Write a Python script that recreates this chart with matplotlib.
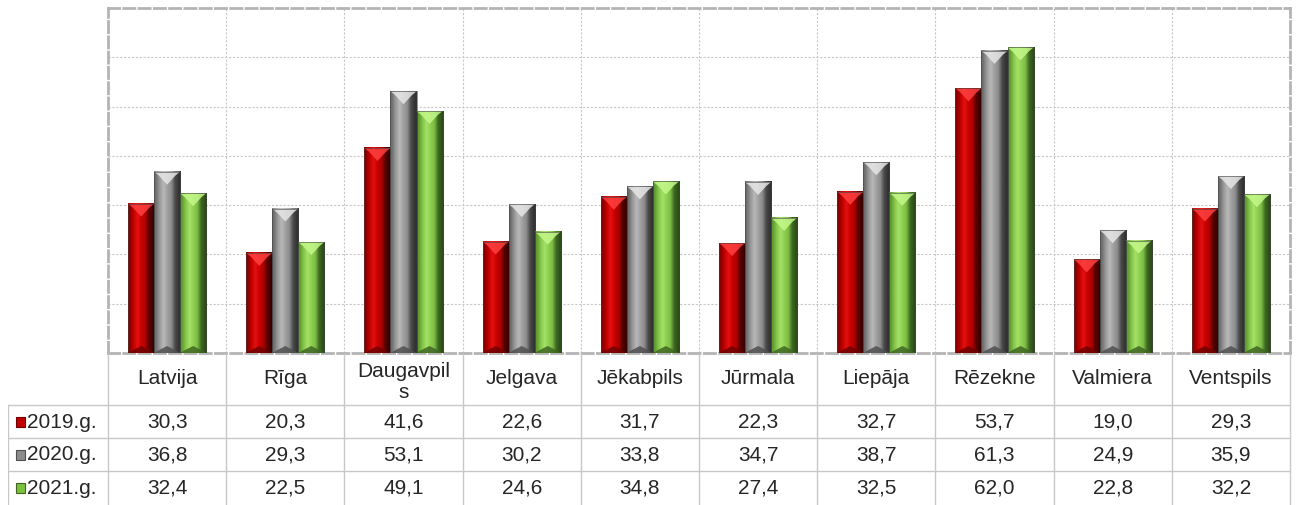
import numpy as np
import matplotlib.pyplot as plt
from matplotlib.colors import to_rgb
from matplotlib.patches import Polygon, Rectangle

# data
cities = ['Latvija', 'Rīga', 'Daugavpil\ns', 'Jelgava', 'Jēkabpils', 'Jūrmala',
          'Liepāja', 'Rēzekne', 'Valmiera', 'Ventspils']
years = ['2019.g.', '2020.g.', '2021.g.']
v2019 = [30.3, 20.3, 41.6, 22.6, 31.7, 22.3, 32.7, 53.7, 19.0, 29.3]
v2020 = [36.8, 29.3, 53.1, 30.2, 33.8, 34.7, 38.7, 61.3, 24.9, 35.9]
v2021 = [32.4, 22.5, 49.1, 24.6, 34.8, 27.4, 32.5, 62.0, 22.8, 32.2]
series = [v2019, v2020, v2021]

# horizontal gradient across a bar, plus top / bottom bevel colours
gradients = [
    ['#8a0000', '#c40000', '#e41010', '#c80000', '#b00000', '#5a0000', '#3a0000'],
    ['#6e6e6e', '#9a9a9a', '#b8b8b8', '#a0a0a0', '#8c8c8c', '#4a4a4a', '#333333'],
    ['#5e9a32', '#86c84a', '#a4e066', '#8ed052', '#7cbc44', '#3e6a22', '#2e4e18'],
]
tops = ['#ff4040', '#e6e6e6', '#c4f88a']
bots = ['#700000', '#505050', '#406622']
marker_cols = ['#c00000', '#8c8c8c', '#7cc040']

plt.rcParams['font.family'] = ['Liberation Sans', 'DejaVu Sans']

W, H = 1300, 505
fig = plt.figure(figsize=(W / 100, H / 100), dpi=100)

ax = fig.add_axes([108 / W, (H - 353) / H, 1182 / W, 345 / H])
ymax = 70
px_y = ymax / 345.0  # data units per pixel

bw = 0.22
for s, vals in enumerate(series):
    grad = np.array([[to_rgb(c) for c in gradients[s]]])
    for i, v in enumerate(vals):
        x0 = i + 0.5 + (s - 1.5) * bw
        x1 = x0 + bw
        bx = bw * 0.18
        ty = min(13 * px_y, v / 2)
        by = min(7 * px_y, v / 2)
        ax.imshow(grad, extent=(x0, x1, 0, v), aspect='auto',
                  interpolation='bilinear', zorder=3)
        ax.add_patch(Polygon([(x0, v), (x1, v), (x1 - bx, v - ty * 0.3),
                              ((x0 + x1) / 2, v - ty), (x0 + bx, v - ty * 0.3)],
                             closed=True, facecolor=tops[s], edgecolor='none',
                             alpha=0.85, zorder=3))
        ax.add_patch(Polygon([(x0, 0), (x1, 0), (x1 - bx, by * 0.4),
                              ((x0 + x1) / 2, by), (x0 + bx, by * 0.4)],
                             closed=True, facecolor=bots[s], edgecolor='none',
                             alpha=0.85, zorder=3))
        ax.add_patch(Rectangle((x0, 0), bw, v, facecolor='none', edgecolor='#404040',
                               linewidth=0.4, zorder=4))

ax.set_xlim(0, len(cities))
ax.set_ylim(0, ymax)
ax.set_xticks([])
ax.set_yticks([])
for y in range(10, ymax, 10):
    ax.axhline(y, color='#c8c8c8', linestyle=(0, (2, 1.5)), linewidth=0.8, zorder=1)
for i in range(1, len(cities)):
    ax.axvline(i, color='#c8c8c8', linestyle=(0, (2, 1.5)), linewidth=0.8, zorder=1)
for sp in ax.spines.values():
    sp.set_color('#b4b4b4')
    sp.set_linewidth(2)
    sp.set_linestyle((0, (4, 1.5)))

# data table
tx = fig.add_axes([8 / W, 0, 1282 / W, 152 / H])
x_left = -100 / 118.2
tx.set_xlim(x_left, len(cities))
tx.set_ylim(152, 0)
tx.axis('off')
lc = '#c8c8c8'
for i in range(len(cities) + 1):
    tx.plot([i, i], [1, 152], color=lc, lw=1, clip_on=False)
tx.plot([x_left, x_left], [52, 152], color=lc, lw=1)
for yb in [52, 85, 118]:
    tx.plot([x_left, len(cities)], [yb, yb], color=lc, lw=1)

for i, c in enumerate(cities):
    tx.text(i + 0.5, 29 if '\n' in c else 26, c, ha='center', va='center',
            fontsize=15, color='#262626', linespacing=1.15)

row_y = [68.5, 101.5, 134.5]
for s, vals in enumerate(series):
    tx.add_patch(Rectangle((x_left + 8 / 118.2, row_y[s] - 5), 9 / 118.2, 10,
                           facecolor=marker_cols[s], edgecolor=bots[s], lw=0.8))
    tx.text(x_left + 19 / 118.2, row_y[s] + 0.5, years[s], ha='left', va='center',
            fontsize=15, color='#262626')
    for i, v in enumerate(vals):
        tx.text(i + 0.5, row_y[s] + 0.5, f'{v:.1f}'.replace('.', ','),
                ha='center', va='center', fontsize=15, color='#262626')

fig.savefig('out.png', dpi=100)
